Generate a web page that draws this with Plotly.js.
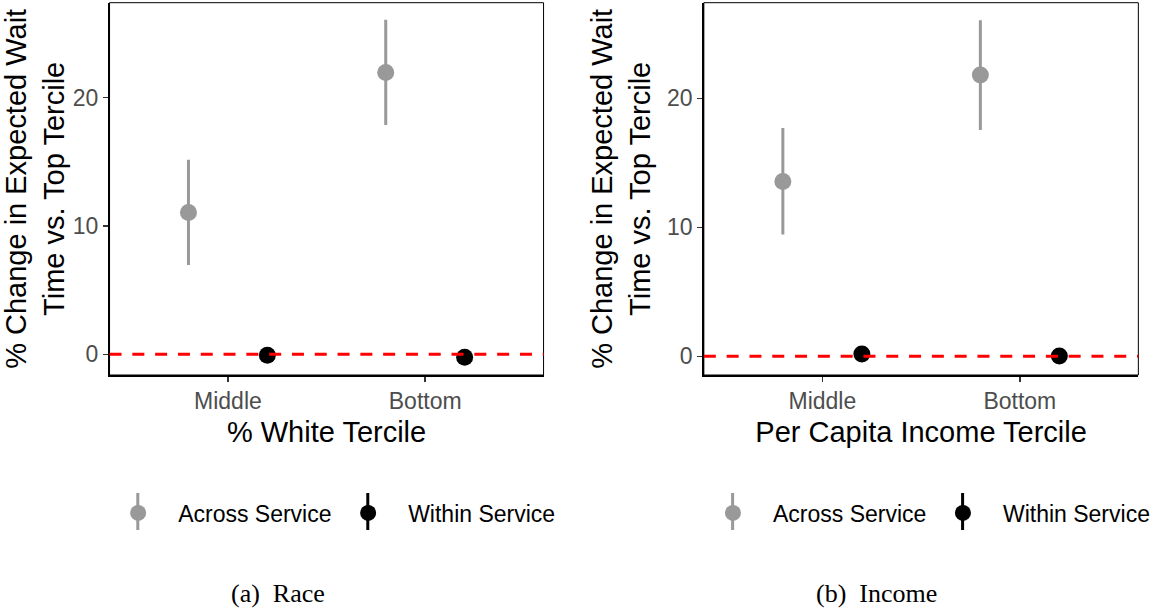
<!DOCTYPE html>
<html><head><meta charset="utf-8">
<script src="https://cdn.plot.ly/plotly-3.0.1.min.js"></script>
<style>html,body{margin:0;padding:0;background:#fff;} #chart{width:1155px;height:608px;}</style>
</head><body><div id="chart"></div>
<script>
// ---- data ----
const categories = ['Middle', 'Bottom'];
const seriesNames = ['Across Service', 'Within Service'];
// Panel (a) Race
const raceAcross = [11.05, 21.95];
const raceAcrossLow = [6.95, 17.85];
const raceAcrossHigh = [15.15, 26.05];
const raceWithin = [-0.08, -0.23];
const raceWithinLow = [-0.16, -0.29];
const raceWithinHigh = [0.0, -0.17];
// Panel (b) Income
const incomeAcross = [13.55, 21.8];
const incomeAcrossLow = [9.45, 17.55];
const incomeAcrossHigh = [17.7, 26.05];
const incomeWithin = [0.18, 0.02];
const incomeWithinLow = [0.08, -0.12];
const incomeWithinHigh = [0.28, 0.14];
const xTitles = ['% White Tercile', 'Per Capita Income Tercile'];
const yTitle = '% Change in Expected Wait<br>Time vs. Top Tercile';
const captions = ['(a)&nbsp; Race', '(b)&nbsp; Income'];
const yTicks = [0, 10, 20];

// ---- styles ----
const W = 1155, H = 608;
const GRAY = '#999999', BLACK = '#000000';
const SANS = 'Liberation Sans, Arial, Helvetica, sans-serif';
const SERIF = 'Liberation Serif, Times New Roman, serif';
const dodge = 0.2;
const px = v => v / W, py = v => 1 - v / H;

function mkTrace(vals, lo, hi, color, name, xa, ya, legend, offset) {
  return {
    type: 'scatter', mode: 'markers', name: name, legend: legend,
    x: categories.map((c, i) => i + offset), y: vals,
    xaxis: xa, yaxis: ya,
    marker: {size: 17, color: color},
    error_y: {type: 'data', symmetric: false,
      array: vals.map((v, i) => hi[i] - v), arrayminus: vals.map((v, i) => v - lo[i]),
      width: 0, thickness: 3, color: color},
    hoverinfo: 'x+y'
  };
}

const data = [
  mkTrace(raceAcross, raceAcrossLow, raceAcrossHigh, GRAY, seriesNames[0], 'x', 'y', 'legend', -dodge),
  mkTrace(raceWithin, raceWithinLow, raceWithinHigh, BLACK, seriesNames[1], 'x', 'y', 'legend2', dodge),
  mkTrace(incomeAcross, incomeAcrossLow, incomeAcrossHigh, GRAY, seriesNames[0], 'x2', 'y2', 'legend3', -dodge),
  mkTrace(incomeWithin, incomeWithinLow, incomeWithinHigh, BLACK, seriesNames[1], 'x2', 'y2', 'legend4', dodge)
];

function xAxis(domain, title) {
  return {
    domain: domain, range: [-0.6, 1.6], tickmode: 'array',
    tickvals: categories.map((c, i) => i), ticktext: categories,
    showgrid: false, zeroline: false, showline: true, linecolor: '#000', linewidth: 1.6,
    ticks: 'outside', ticklen: 5, tickwidth: 1.5, tickcolor: '#333333',
    tickfont: {family: SANS, size: 23, color: '#4D4D4D'},
    title: {text: title, font: {family: SANS, size: 29, color: '#000'}, standoff: 8},
    fixedrange: true
  };
}
function yAxis(domain, range, anchor) {
  return {
    domain: domain, range: range, anchor: anchor, tickmode: 'array', tickvals: yTicks,
    showgrid: false, zeroline: false, showline: true, linecolor: '#000', linewidth: 1.6,
    ticks: 'outside', ticklen: 5, tickwidth: 1.5, tickcolor: '#333333',
    tickfont: {family: SANS, size: 23, color: '#4D4D4D'},
    title: {text: yTitle, font: {family: SANS, size: 29, color: '#000'}, standoff: 8},
    fixedrange: true
  };
}

const yDom = [py(375), py(2.7)];
function legendAt(symX) {
  return {orientation: 'h', x: px(symX - 40), xanchor: 'left', y: py(513), yanchor: 'middle',
    itemwidth: 70, bgcolor: 'rgba(0,0,0,0)', borderwidth: 0,
    font: {family: SANS, size: 23, color: '#000'}};
}
const legendSym = [139, 371, 739, 971];
const legendCol = [GRAY, BLACK, GRAY, BLACK];

const shapes = [];
[['x', 'y'], ['x2', 'y2']].forEach(([xa, ya]) => {
  shapes.push({type: 'rect', xref: xa + ' domain', yref: ya + ' domain', x0: 0, x1: 1, y0: 0, y1: 1,
    line: {color: '#000', width: 1}, layer: 'below'});
  shapes.push({type: 'line', xref: xa + ' domain', yref: ya, x0: 0, x1: 1, y0: 0, y1: 0,
    line: {color: '#FF0000', width: 3, dash: '12px,10.8px'}, layer: 'above'});
});
legendSym.forEach((s, i) => {
  shapes.push({type: 'line', xref: 'paper', yref: 'paper', x0: px(s), x1: px(s), y0: py(493), y1: py(530),
    line: {color: legendCol[i], width: 3}, layer: 'below'});
});

const layout = {
  width: W, height: H, margin: {l: 0, r: 0, t: 0, b: 0},
  paper_bgcolor: '#fff', plot_bgcolor: '#fff', showlegend: true,
  xaxis: xAxis([px(110.5), px(548.3)], xTitles[0]),
  yaxis: yAxis(yDom, [-1.61, 27.38], 'x'),
  xaxis2: Object.assign(xAxis([px(710), px(1148.3)], xTitles[1]), {anchor: 'y2'}),
  yaxis2: yAxis(yDom, [-1.45, 27.41], 'x2'),
  legend: legendAt(legendSym[0]), legend2: legendAt(legendSym[1]),
  legend3: legendAt(legendSym[2]), legend4: legendAt(legendSym[3]),
  shapes: shapes,
  annotations: captions.map((c, i) => ({
    text: c, xref: 'paper', yref: 'paper', x: px([280, 884][i]), y: py(593),
    xanchor: 'center', yanchor: 'middle', showarrow: false,
    font: {family: SERIF, size: 26, color: '#000'}
  }))
};
layout.xaxis.anchor = 'y';

Plotly.newPlot('chart', data, layout, {displayModeBar: false, staticPlot: true});
</script></body></html>
